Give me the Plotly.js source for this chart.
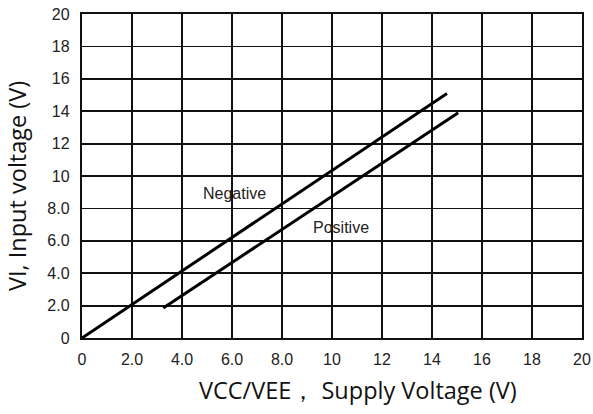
<!DOCTYPE html>
<html><head><meta charset="utf-8">
<script src="https://cdn.plot.ly/plotly-3.0.1.min.js"></script>
<style>body{margin:0;background:#fff}#c{width:593px;height:414px}</style>
</head><body><div id="c"></div>
<script>
const negX = [0, 14.6];
const negY = [0, 15.1];
const posX = [3.25, 15.05];
const posY = [1.85, 13.9];
const xTickVals = [0,2,4,6,8,10,12,14,16,18,20];
const xTickText = ["0","2.0","4.0","6.0","8.0","10","12","14","16","18","20"];
const yTickVals = [0,2,4,6,8,10,12,14,16,18,20];
const yTickText = ["0","2.0","4.0","6.0","8.0","10","12","14","16","18","20"];
const labels = [{t:"Negative", x:6.1, y:8.95},{t:"Positive", x:10.36, y:6.85}];
const xTitle = "VCC/VEE\uFF0C Supply Voltage (V)";
const yTitle = "VI, Input voltage (V)";

const tickFont = {family:"Liberation Sans, Arial, sans-serif", size:16, color:"#222"};
const titleFont = {family:"Open Sans, Noto Sans, sans-serif", size:23.5, color:"#111"};
const data = [
  {x:negX, y:negY, mode:"lines", line:{color:"#000", width:3}, hoverinfo:"skip"},
  {x:posX, y:posY, mode:"lines", line:{color:"#000", width:3}, hoverinfo:"skip"}
];
const annots = labels.map(l=>({x:l.x, y:l.y, text:l.t, showarrow:false, xref:"x", yref:"y",
    font:{family:"Liberation Sans Narrow, Arial Narrow, Liberation Sans, Arial", size:16, color:"#222"}}));
annots.push({xref:"paper", yref:"paper", x:(358-82)/500, y:-(390-338)/324, text:xTitle, showarrow:false,
  xanchor:"center", yanchor:"middle", font:titleFont});
annots.push({xref:"paper", yref:"paper", x:-(82-17)/500, y:(338-186)/324, text:yTitle, showarrow:false,
  textangle:-90, xanchor:"center", yanchor:"middle", font:titleFont});
const layout = {
  width:593, height:414, showlegend:false,
  paper_bgcolor:"#fff", plot_bgcolor:"#fff",
  margin:{l:82, r:11, t:14, b:76},
  xaxis:{range:[0,20], tickvals:xTickVals, ticktext:xTickText, showgrid:true, gridcolor:"#111", gridwidth:1.8,
    zeroline:false, showline:true, mirror:true, linecolor:"#111", linewidth:2.2, ticks:"", tickfont:tickFont, ticklabelstandoff:6},
  yaxis:{range:[0,20], tickvals:yTickVals, ticktext:yTickText, showgrid:true, gridcolor:"#111", gridwidth:1.8,
    zeroline:false, showline:true, mirror:true, linecolor:"#111", linewidth:2.2, ticks:"", tickfont:tickFont, ticklabelstandoff:7},
  annotations: annots
};
Plotly.newPlot("c", data, layout, {displayModeBar:false, staticPlot:true});
</script></body></html>
